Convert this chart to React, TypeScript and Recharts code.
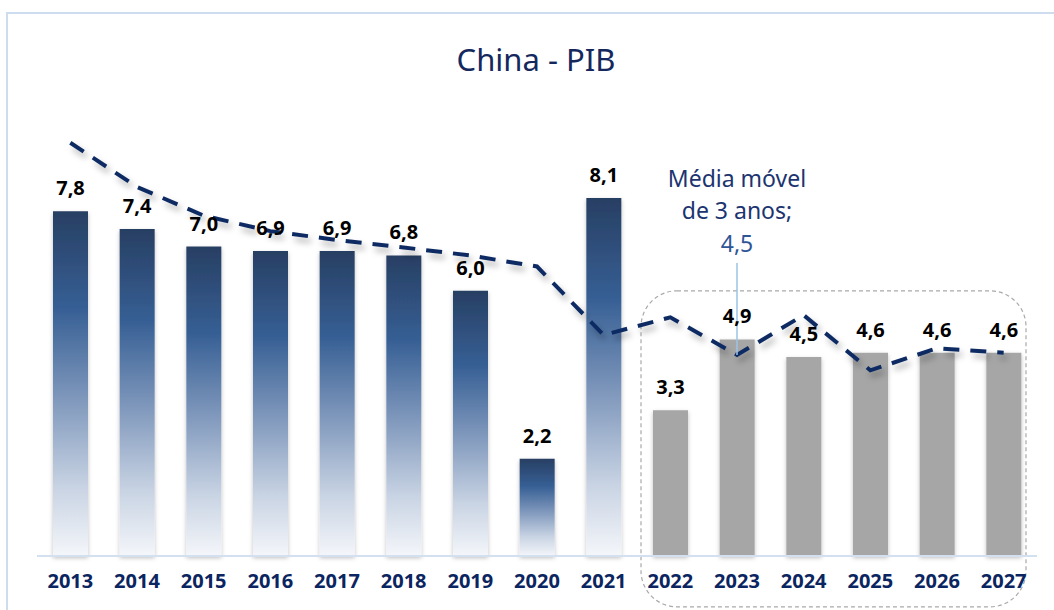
import { ComposedChart, Bar, Line, XAxis, YAxis, Cell, LabelList, ReferenceLine, ReferenceArea } from 'recharts'

const YEARS = ['2013', '2014', '2015', '2016', '2017', '2018', '2019', '2020', '2021', '2022', '2023', '2024', '2025', '2026', '2027']
const GDP = [7.8, 7.4, 7.0, 6.9, 6.9, 6.8, 6.0, 2.2, 8.1, 3.3, 4.9, 4.5, 4.6, 4.6, 4.6]
const MOVING_AVG = [9.35, 8.35, 7.7, 7.35, 7.15, 6.98, 6.8, 6.55, 5.0, 5.4, 4.55, 5.45, 4.2, 4.7, 4.6]
const FORECAST_FROM = '2022'

const FONT = '"Noto Sans", "Liberation Sans", sans-serif'
const NAVY = '#0d2b63'

const chartData = YEARS.map((year, i) => ({
  year,
  gdp: GDP[i],
  ma: MOVING_AVG[i],
  forecast: year >= FORECAST_FROM,
}))

const fmt = (v: number) => v.toFixed(1).replace('.', ',')

function AnnotationLabel(props: any) {
  const { viewBox } = props
  const x = viewBox.x
  const top = viewBox.y
  return (
    <g fontFamily={FONT} fontSize={23} textAnchor="middle">
      <text x={x} y={top - 76} fill="#1c3470">Média móvel</text>
      <text x={x} y={top - 44} fill="#1c3470">de 3 anos;</text>
      <text x={x} y={top - 11} fill="#2f5597">4,5</text>
    </g>
  )
}

function ForecastBox(props: any) {
  const { x, y, width, height } = props
  return (
    <rect
      x={x + 4}
      y={y}
      width={width - 15}
      height={height}
      rx={36}
      ry={36}
      fill="none"
      stroke="#a9a9a9"
      strokeWidth={1.2}
      strokeDasharray="4 3"
    />
  )
}

export default function App() {
  return (
    <div style={{ position: 'absolute', left: 0, top: 0, width: 1054, height: 610, overflow: 'hidden', background: '#fff' }}>
      <div style={{ position: 'absolute', left: 6, top: 12, width: 1200, height: 800, border: '2px solid #cddcef' }} />
      <div
        style={{
          position: 'absolute',
          left: 0,
          width: 1072,
          top: 38,
          textAlign: 'center',
          fontFamily: FONT,
          fontSize: 31,
          color: '#14285e',
        }}
      >
        China - PIB
      </div>
      <div style={{ position: 'absolute', left: 0, top: 0 }}>
        <ComposedChart width={1054} height={610} data={chartData} margin={{ top: 114, right: 17, left: 37, bottom: 24 }}>
          <defs>
            <linearGradient id="blueGrad" x1="0" y1="0" x2="0" y2="1">
              <stop offset="0" stopColor="#283f63" />
              <stop offset="0.28" stopColor="#365f94" />
              <stop offset="0.52" stopColor="#7892b8" />
              <stop offset="0.8" stopColor="#c8d3e3" />
              <stop offset="1" stopColor="#f4f6fa" />
            </linearGradient>
            <filter id="barShadow" x="-20%" y="-5%" width="140%" height="115%">
              <feDropShadow dx="0" dy="2" stdDeviation="2" floodColor="#000" floodOpacity="0.25" />
            </filter>
            <filter id="lineShadow" x="-5%" y="-20%" width="110%" height="140%">
              <feDropShadow dx="3" dy="5" stdDeviation="3" floodColor="#000" floodOpacity="0.3" />
            </filter>
          </defs>
          <XAxis
            dataKey="year"
            height={30}
            axisLine={{ stroke: '#d3e0f0', strokeWidth: 2 }}
            tickLine={false}
            tickSize={0}
            tickMargin={18}
            tick={{ fill: '#0b2560', fontSize: 20, fontWeight: 700, fontFamily: FONT }}
            interval={0}
          />
          <YAxis hide domain={[0, 10]} />
          <ReferenceArea
            x1={FORECAST_FROM}
            x2="2027"
            y1={-1.15}
            y2={6}
            ifOverflow="visible"
            shape={<ForecastBox />}
          />
          <Bar dataKey="gdp" barSize={35} isAnimationActive={false} filter="url(#barShadow)">
            {chartData.map((d, i) => (
              <Cell key={i} fill={d.forecast ? '#a6a6a6' : 'url(#blueGrad)'} />
            ))}
            <LabelList
              dataKey="gdp"
              position="top"
              offset={16}
              formatter={(v: number) => fmt(v)}
              style={{ fill: '#000', fontSize: 20, fontWeight: 700, fontFamily: FONT }}
            />
          </Bar>
          <Line
            dataKey="ma"
            type="linear"
            stroke={NAVY}
            strokeWidth={4}
            strokeDasharray="16 11"
            dot={false}
            activeDot={false}
            filter="url(#lineShadow)"
            isAnimationActive={false}
          />
          <ReferenceLine
            segment={[
              { x: '2023', y: 4.55 },
              { x: '2023', y: 6.63 },
            ]}
            stroke="#9dc3e6"
            strokeWidth={1.5}
            ifOverflow="visible"
            label={<AnnotationLabel />}
          />
        </ComposedChart>
      </div>
    </div>
  )
}
